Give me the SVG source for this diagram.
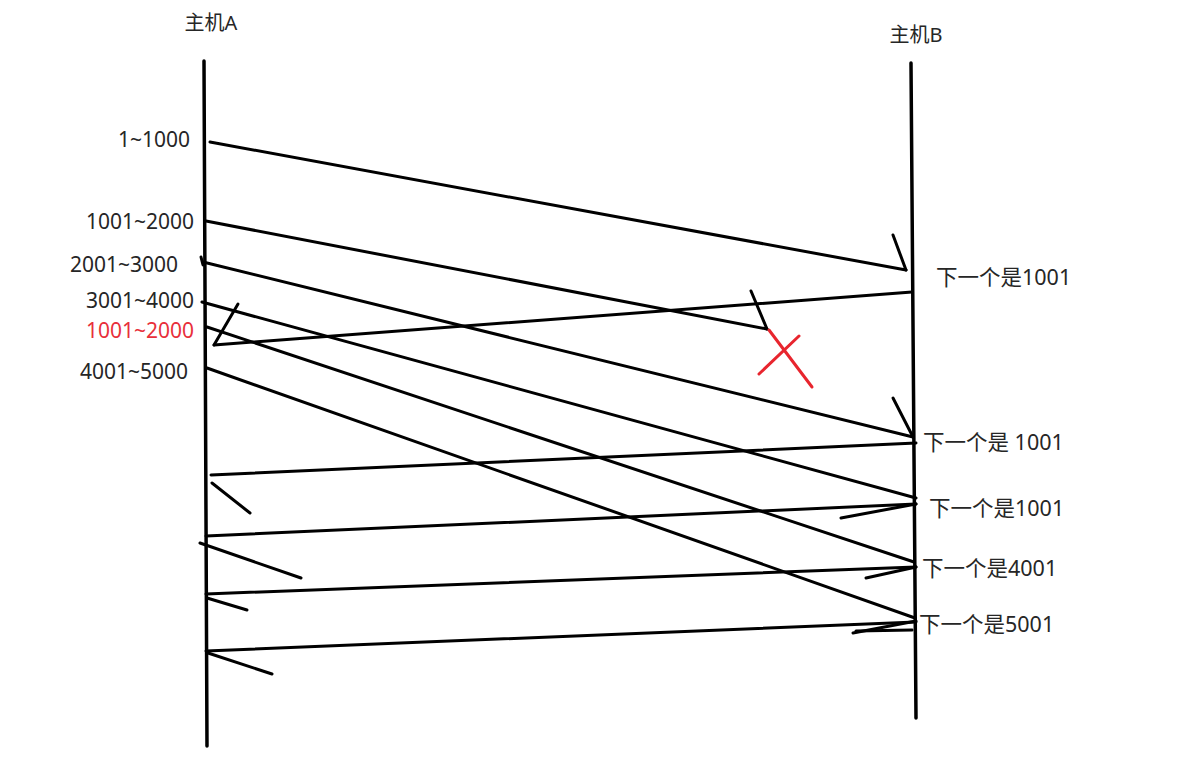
<svg xmlns="http://www.w3.org/2000/svg" width="1196" height="780" viewBox="0 0 1196 780">
<style>
text{font-family:"Noto Sans","Noto Sans CJK SC",sans-serif;font-size:21px;fill:#262626}
.t{font-size:20px;text-anchor:middle}
.r{font-size:21.5px}
.l{text-anchor:end}
.red{fill:#e8303a}
.life{stroke:#000;stroke-width:3.5;stroke-linecap:round;fill:none}
.c line{stroke:#000;stroke-width:3;stroke-linecap:round}
.x line{stroke:#e8252e;stroke-width:3;stroke-linecap:round}
</style>
<rect width="1196" height="780" fill="#fff"/>
<g id="hostA">
<text class="t" x="211" y="30">主机A</text>
<line class="life" x1="204" y1="61" x2="207" y2="746"/>
</g>
<g id="hostB">
<text class="t" x="916" y="42">主机B</text>
<line class="life" x1="911" y1="63" x2="916" y2="718"/>
</g>
<g id="labels">
<text class="l" x="190" y="147">1~1000</text>
<text class="l" x="194" y="229">1001~2000</text>
<text class="l" x="178" y="272">2001~3000</text>
<text class="l" x="194" y="308">3001~4000</text>
<text class="l red" x="194" y="338">1001~2000</text>
<text class="l" x="188" y="379">4001~5000</text>
<text class="r" x="936" y="285">下一个是1001</text>
<text class="r" x="923" y="450">下一个是 1001</text>
<text class="r" x="929" y="516">下一个是1001</text>
<text class="r" x="922" y="576">下一个是4001</text>
<text class="r" x="919" y="632">下一个是5001</text>
</g>
<g id="connectors" class="c">
<line x1="210" y1="142" x2="906" y2="270"/>
<line x1="893" y1="235" x2="906" y2="270"/>
<line x1="206" y1="221" x2="767" y2="329"/>
<line x1="751" y1="291" x2="767" y2="329"/>
<line x1="201" y1="257" x2="203" y2="265"/>
<line x1="203" y1="262" x2="913" y2="437"/>
<line x1="893" y1="398" x2="913" y2="437"/>
<line x1="202" y1="302" x2="916" y2="498"/>
<line x1="207" y1="327" x2="914" y2="562"/>
<line x1="207" y1="368" x2="915" y2="618"/>
<line x1="912" y1="292" x2="214" y2="345"/>
<line x1="214" y1="345" x2="238" y2="304"/>
<line x1="916" y1="443" x2="211" y2="475"/>
<line x1="212" y1="483" x2="250" y2="513"/>
<line x1="916" y1="504" x2="206" y2="536"/>
<line x1="200" y1="543" x2="301" y2="578"/>
<line x1="841" y1="518" x2="916" y2="504"/>
<line x1="916" y1="567" x2="206" y2="594"/>
<line x1="207" y1="598" x2="247" y2="610"/>
<line x1="866" y1="578" x2="916" y2="567"/>
<line x1="916" y1="622" x2="206" y2="651"/>
<line x1="208" y1="653" x2="272" y2="674"/>
<line x1="853" y1="633" x2="916" y2="621"/>
<line x1="856" y1="631" x2="912" y2="630"/>
</g>
<g id="lost" class="x">
<line x1="769" y1="330" x2="812" y2="387"/>
<line x1="759" y1="374" x2="799" y2="336"/>
</g>
</svg>
